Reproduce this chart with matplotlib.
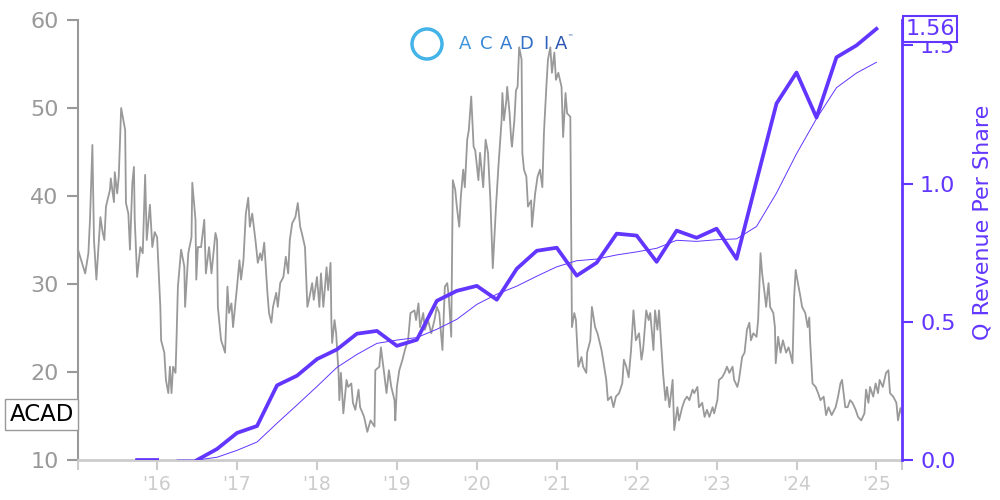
import pandas as pd
import matplotlib
matplotlib.use("Agg")
import matplotlib.pyplot as plt
from matplotlib.patches import Ellipse

# share price (decimal year, USD)
price_t = [2015.01, 2015.05, 2015.10, 2015.14, 2015.16, 2015.19, 2015.21, 2015.24, 2015.29, 2015.32,
           2015.34, 2015.36, 2015.41, 2015.42, 2015.46, 2015.47, 2015.50, 2015.52, 2015.55, 2015.57,
           2015.60, 2015.61, 2015.64, 2015.66, 2015.69, 2015.71, 2015.72, 2015.75, 2015.79, 2015.82,
           2015.85, 2015.87, 2015.91, 2015.94, 2015.97, 2016.00, 2016.04, 2016.05, 2016.09, 2016.11,
           2016.14, 2016.16, 2016.18, 2016.20, 2016.23, 2016.24, 2016.26, 2016.30, 2016.34, 2016.35,
           2016.39, 2016.43, 2016.44, 2016.48, 2016.49, 2016.51, 2016.55, 2016.59, 2016.61, 2016.65,
           2016.68, 2016.73, 2016.75, 2016.76, 2016.80, 2016.83, 2016.85, 2016.88, 2016.90, 2016.93,
           2016.95, 2017.00, 2017.03, 2017.05, 2017.08, 2017.11, 2017.14, 2017.16, 2017.19, 2017.23,
           2017.26, 2017.29, 2017.31, 2017.34, 2017.38, 2017.40, 2017.43, 2017.45, 2017.49, 2017.51,
           2017.54, 2017.58, 2017.61, 2017.64, 2017.66, 2017.69, 2017.73, 2017.76, 2017.79, 2017.81,
           2017.85, 2017.88, 2017.90, 2017.94, 2017.96, 2018.00, 2018.03, 2018.05, 2018.08, 2018.12,
           2018.14, 2018.17, 2018.18, 2018.19, 2018.22, 2018.24, 2018.27, 2018.28, 2018.30, 2018.33,
           2018.37, 2018.39, 2018.43, 2018.45, 2018.48, 2018.52, 2018.54, 2018.59, 2018.63, 2018.67,
           2018.72, 2018.73, 2018.78, 2018.80, 2018.84, 2018.87, 2018.90, 2018.93, 2018.97, 2018.98,
           2019.00, 2019.03, 2019.07, 2019.10, 2019.14, 2019.17, 2019.22, 2019.24, 2019.27, 2019.29,
           2019.33, 2019.35, 2019.39, 2019.43, 2019.47, 2019.50, 2019.53, 2019.57, 2019.60, 2019.63,
           2019.65, 2019.68, 2019.70, 2019.73, 2019.75, 2019.78, 2019.80, 2019.83, 2019.85, 2019.88,
           2019.90, 2019.92, 2019.93, 2019.96, 2019.98, 2020.02, 2020.04, 2020.08, 2020.11, 2020.14,
           2020.17, 2020.20, 2020.24, 2020.27, 2020.31, 2020.32, 2020.34, 2020.37, 2020.38, 2020.41,
           2020.43, 2020.44, 2020.47, 2020.49, 2020.51, 2020.53, 2020.56, 2020.57, 2020.59, 2020.62,
           2020.64, 2020.68, 2020.69, 2020.73, 2020.76, 2020.79, 2020.82, 2020.84, 2020.87, 2020.89,
           2020.92, 2020.94, 2020.97, 2020.99, 2021.02, 2021.06, 2021.08, 2021.11, 2021.13, 2021.17,
           2021.19, 2021.22, 2021.24, 2021.27, 2021.31, 2021.33, 2021.37, 2021.38, 2021.42, 2021.44,
           2021.48, 2021.51, 2021.56, 2021.58, 2021.62, 2021.64, 2021.68, 2021.71, 2021.74, 2021.78,
           2021.82, 2021.84, 2021.87, 2021.90, 2021.93, 2021.96, 2021.99, 2022.03, 2022.06, 2022.08,
           2022.12, 2022.15, 2022.17, 2022.21, 2022.23, 2022.26, 2022.28, 2022.31, 2022.33, 2022.36,
           2022.38, 2022.41, 2022.45, 2022.47, 2022.51, 2022.53, 2022.57, 2022.60, 2022.63, 2022.66,
           2022.70, 2022.72, 2022.76, 2022.78, 2022.82, 2022.85, 2022.88, 2022.91, 2022.95, 2022.97,
           2023.01, 2023.03, 2023.07, 2023.10, 2023.13, 2023.16, 2023.20, 2023.22, 2023.26, 2023.28,
           2023.32, 2023.35, 2023.38, 2023.41, 2023.43, 2023.46, 2023.50, 2023.52, 2023.55, 2023.57,
           2023.60, 2023.62, 2023.65, 2023.67, 2023.71, 2023.73, 2023.74, 2023.77, 2023.80, 2023.83,
           2023.87, 2023.90, 2023.92, 2023.95, 2023.97, 2023.99, 2024.01, 2024.05, 2024.07, 2024.11,
           2024.14, 2024.16, 2024.17, 2024.20, 2024.24, 2024.27, 2024.30, 2024.34, 2024.37, 2024.40,
           2024.44, 2024.49, 2024.52, 2024.55, 2024.57, 2024.61, 2024.64, 2024.67, 2024.70, 2024.74,
           2024.77, 2024.81, 2024.85, 2024.87, 2024.90, 2024.92, 2024.96, 2024.99, 2025.02, 2025.04,
           2025.08, 2025.12, 2025.15, 2025.17, 2025.21, 2025.25, 2025.27, 2025.30, 2025.32]
price_v = [33.9, 32.7, 31.2, 33.5, 37.3, 45.8, 35.0, 30.5, 37.6, 35.8,
           35.0, 38.8, 40.7, 42.0, 39.3, 42.7, 40.3, 42.2, 50.0, 49.0,
           47.5, 39.2, 38.0, 33.9, 41.5, 43.3, 37.3, 30.8, 34.2, 33.5,
           42.4, 35.0, 39.0, 34.2, 35.9, 35.3, 27.4, 23.6, 22.2, 19.1,
           17.6, 20.6, 17.6, 20.6, 19.9, 22.8, 29.7, 33.9, 32.0, 27.4,
           33.5, 35.3, 41.5, 37.3, 30.5, 34.2, 34.2, 37.3, 31.2, 34.2,
           31.2, 35.8, 35.0, 27.4, 23.6, 22.8, 22.2, 29.7, 26.7, 27.8,
           25.1, 29.7, 32.7, 30.5, 32.7, 38.0, 39.8, 36.5, 38.0, 35.0,
           32.4, 33.5, 32.7, 34.7, 29.0, 26.7, 25.6, 27.4, 29.0, 27.4,
           30.1, 30.8, 33.1, 31.2, 35.0, 36.9, 37.6, 39.2, 36.5, 35.8,
           34.2, 27.4, 28.2, 30.1, 28.2, 30.8, 27.4, 31.2, 27.4, 31.9,
           29.3, 32.4, 25.9, 23.3, 25.9, 24.4, 19.9, 16.8, 19.9, 15.3,
           19.1, 18.3, 18.7, 16.5, 15.7, 18.0, 16.0, 14.9, 13.2, 14.5,
           13.8, 20.2, 20.6, 22.8, 19.9, 17.6, 20.2, 18.3, 16.8, 14.5,
           18.3, 20.2, 21.4, 22.5, 23.6, 26.7, 27.0, 25.9, 27.8, 25.1,
           26.7, 24.8, 25.9, 24.4, 25.9, 27.4, 26.7, 22.5, 29.7, 30.1,
           28.5, 24.0, 41.8, 40.7, 38.8, 36.5, 39.9, 43.0, 41.0, 46.4,
           47.5, 50.1, 51.3, 45.6, 45.2, 41.8, 44.9, 41.0, 46.4, 44.9,
           39.5, 31.8, 38.8, 43.3, 48.6, 51.7, 48.6, 50.9, 52.4, 49.4,
           46.4, 45.6, 48.6, 52.0, 52.4, 56.9, 55.5, 44.9, 43.0, 42.2,
           38.8, 39.5, 36.5, 40.3, 42.2, 43.0, 41.0, 47.2, 52.4, 55.5,
           56.9, 54.0, 56.3, 53.2, 54.0, 52.4, 46.7, 51.7, 49.4, 49.0,
           25.1, 26.7, 25.9, 20.6, 21.7, 20.6, 19.9, 22.2, 23.6, 27.4,
           25.1, 24.4, 22.5, 21.4, 19.1, 16.8, 17.2, 16.0, 17.2, 17.6,
           18.7, 21.4, 20.6, 19.4, 22.5, 27.0, 23.6, 24.4, 21.4, 22.5,
           27.0, 25.9, 26.7, 22.5, 27.0, 24.8, 27.0, 22.8, 19.9, 16.8,
           18.3, 16.0, 19.1, 13.4, 16.0, 14.5, 16.0, 16.8, 17.2, 16.8,
           18.0, 17.6, 18.3, 16.0, 16.5, 14.9, 15.7, 14.9, 16.0, 15.3,
           16.8, 19.1, 19.4, 19.9, 20.6, 19.9, 20.6, 19.1, 18.3, 19.1,
           21.7, 22.2, 24.8, 25.6, 23.6, 24.4, 24.0, 25.9, 33.5, 31.2,
           29.0, 27.4, 30.1, 27.4, 26.7, 25.1, 21.0, 24.0, 22.2, 23.6,
           22.2, 22.8, 22.2, 21.0, 28.5, 31.6, 30.5, 28.5, 27.4, 26.7,
           25.1, 26.2, 23.6, 18.7, 18.3, 17.6, 16.8, 17.2, 15.1, 16.0,
           15.1, 16.0, 17.2, 18.7, 19.1, 16.0, 16.0, 16.8, 16.5, 15.7,
           14.9, 14.5, 15.3, 18.0, 16.5, 18.3, 17.2, 18.7, 17.6, 19.1,
           18.3, 19.9, 20.2, 17.6, 17.2, 16.5, 14.5, 15.9, 15.2]

# quarterly revenue per share
quarters = ["2015Q4", "2016Q1", "2016Q2", "2016Q3", "2016Q4",
            "2017Q1", "2017Q2", "2017Q3", "2017Q4", "2018Q1", "2018Q2", "2018Q3", "2018Q4",
            "2019Q1", "2019Q2", "2019Q3", "2019Q4", "2020Q1", "2020Q2", "2020Q3", "2020Q4",
            "2021Q1", "2021Q2", "2021Q3", "2021Q4", "2022Q1", "2022Q2", "2022Q3", "2022Q4",
            "2023Q1", "2023Q2", "2023Q3", "2023Q4", "2024Q1", "2024Q2", "2024Q3", "2024Q4",
            "2025Q1"]
q_rev = [0.0, 0.0, None, 0.0, 0.04,
         0.098, 0.123, 0.27, 0.305, 0.365, 0.40, 0.457, 0.467,
         0.413, 0.435, 0.576, 0.612, 0.63, 0.58, 0.692, 0.757,
         0.768, 0.667, 0.714, 0.819, 0.812, 0.717, 0.83, 0.804,
         0.837, 0.728, 1.01, 1.29, 1.402, 1.239, 1.457, 1.50,
         1.56]
# trailing four-quarter average
q_avg = [None, None, 0.0, 0.0, 0.01,
         0.035, 0.065, 0.133, 0.199, 0.266, 0.335, 0.382, 0.422,
         0.434, 0.443, 0.473, 0.509, 0.563, 0.60, 0.629, 0.665,
         0.699, 0.721, 0.727, 0.742, 0.753, 0.766, 0.795, 0.791,
         0.797, 0.80, 0.845, 0.966, 1.108, 1.235, 1.347, 1.40,
         1.439]

year_ticks = [2016, 2017, 2018, 2019, 2020, 2021, 2022, 2023, 2024, 2025]
year_labels = ["'16", "'17", "'18", "'19", "'20", "'21", "'22", "'23", "'24", "'25"]

purple = "#6236ff"
grey = "#999999"
light = "#cccccc"

per = pd.PeriodIndex(quarters, freq="Q")
q_t = per.year + (per.quarter - 1) / 4.0
rev = pd.Series(q_rev, dtype=float)
avg = pd.Series(q_avg, dtype=float)

fig = plt.figure(figsize=(10, 5), dpi=100)
ax = fig.add_axes([0.078, 0.08, 0.824, 0.88])
ax2 = ax.twinx()

ax.plot(price_t, price_v, color=grey, lw=1.3)
ax.set_xlim(price_t[0], price_t[-1])
ax.set_ylim(10, 60)
ax.set_yticks([10, 20, 30, 40, 50, 60])
ax.set_xticks(year_ticks)
ax.set_xticklabels(year_labels)
ax.set_xticks([price_t[0], price_t[-1]], minor=True)
ax.tick_params(axis="y", colors=grey, labelsize=16, length=8, width=1.5, pad=6)
ax.tick_params(axis="x", which="both", colors=light, labelsize=13.5, length=7, width=1.5, pad=4)
for s in ["top", "right"]:
    ax.spines[s].set_visible(False)
ax.spines["left"].set_color(grey)
ax.spines["left"].set_linewidth(1.5)
ax.spines["bottom"].set_color(light)
ax.spines["bottom"].set_linewidth(2)

ax2.plot(q_t, rev, color=purple, lw=2.7)
ax2.plot(q_t, avg, color=purple, lw=0.7)
ax2.set_ylim(0, 1.592)
ax2.set_yticks([0.0, 0.5, 1.0, 1.5])
ax2.set_yticklabels(["0.0", "0.5", "1.0", "1.5"])
ax2.tick_params(axis="y", colors=purple, labelsize=16, length=8, width=1.5, pad=5)
for s in ["top", "left", "bottom"]:
    ax2.spines[s].set_visible(False)
ax2.spines["right"].set_color(purple)
ax2.spines["right"].set_linewidth(2)
ax2.set_ylabel("Q Revenue Per Share", color=purple, fontsize=16)
ax2.yaxis.set_label_coords(1.086, 0.54)

ax.annotate("ACAD", xy=(-0.005, price_v[-1]), xycoords=("axes fraction", "data"),
            ha="right", va="center", fontsize=16.5, color="black", annotation_clip=False,
            bbox=dict(boxstyle="square,pad=0.18", fc="white", ec=grey, lw=1))
ax2.annotate("1.56", xy=(1.004, rev.iloc[-1]), xycoords=("axes fraction", "data"),
             ha="left", va="center", fontsize=16, color=purple, annotation_clip=False,
             bbox=dict(boxstyle="square,pad=0.12", fc="white", ec=purple, lw=1.5))

# logo
fig.add_artist(Ellipse((0.427, 1 - 44 / 500), 0.030, 0.060, transform=fig.transFigure,
                       fill=False, ec="#43b3e8", lw=2.5))
logo_x = [0.465, 0.486, 0.506, 0.526, 0.546, 0.561]
logo_c = ["#3b94dc", "#3889d6", "#357dcf", "#3270c6", "#2f62bd", "#2c55b3"]
for ch, x, c in zip("ACADIA", logo_x, logo_c):
    fig.text(x, 1 - 44 / 500, ch, color=c, fontsize=13, ha="center", va="center")
fig.text(0.570, 1 - 37 / 500, "™", color="#2c55b3", fontsize=4, ha="center", va="center")

fig.savefig("out.png", dpi=100)
